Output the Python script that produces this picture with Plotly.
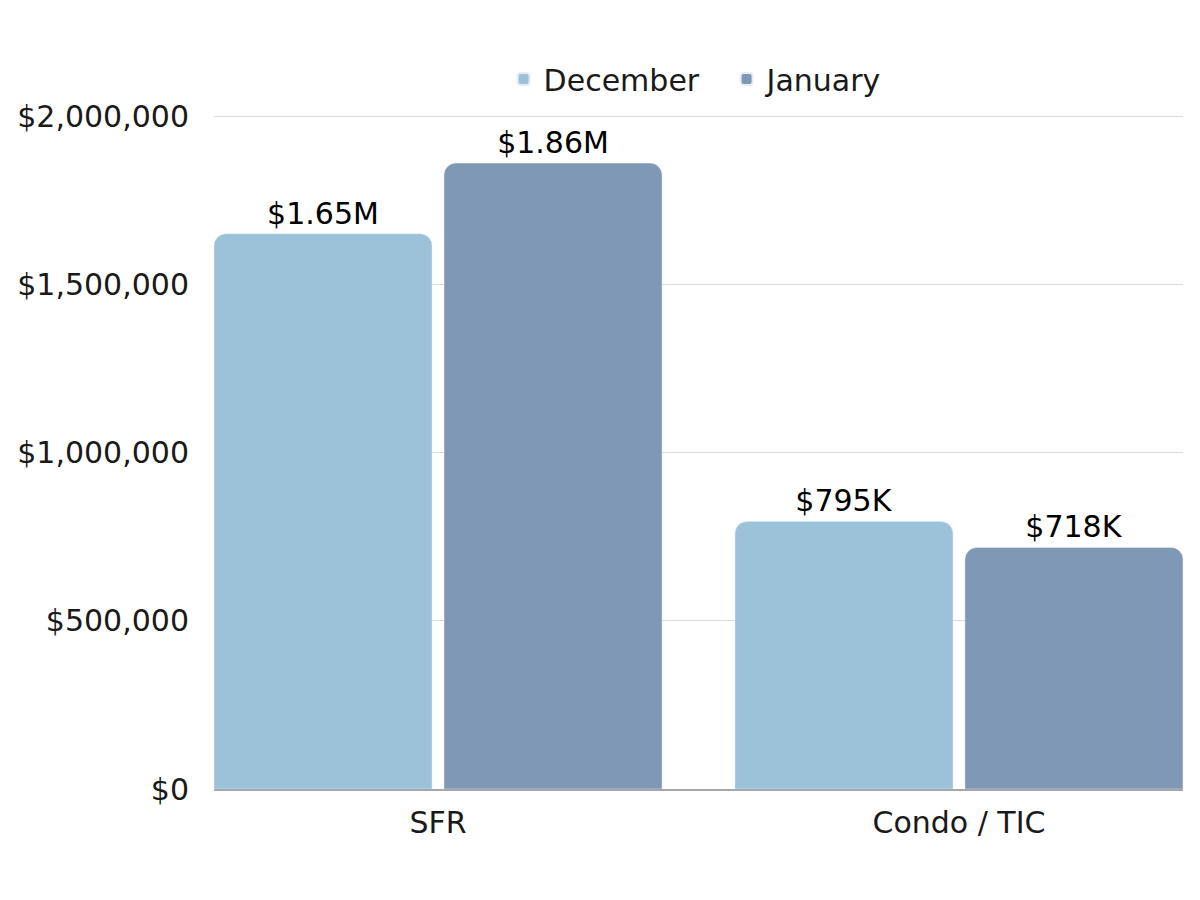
import plotly.graph_objects as go

categories = ["SFR", "Condo / TIC"]
december = [1650000, 795000]
january = [1860000, 718000]
december_labels = ["$1.65M", "$795K"]
january_labels = ["$1.86M", "$718K"]
y_tickvals = [0, 500000, 1000000, 1500000, 2000000]
y_ticktext = ["$0", "$500,000", "$1,000,000", "$1,500,000", "$2,000,000"]

FONT = "DejaVu Sans"
FS = 30
fig = go.Figure()
fig.add_trace(go.Bar(
    name="December", x=categories, y=december, text=december_labels,
    textposition="outside", marker_color="#9BC2D8", cliponaxis=False,
    textfont=dict(size=FS, color="#000000", family=FONT),
))
fig.add_trace(go.Bar(
    name="January", x=categories, y=january, text=january_labels,
    textposition="outside", marker_color="#7F98B5", cliponaxis=False,
    textfont=dict(size=FS, color="#000000", family=FONT),
))
fig.update_layout(
    width=1200, height=900,
    paper_bgcolor="white", plot_bgcolor="white",
    margin=dict(l=206, r=25, t=107, b=119, autoexpand=False),
    barmode="group", bargap=0.117, bargroupgap=0.052,
    barcornerradius=12,
    font=dict(family=FONT, size=FS, color="#1a1a1a"),
    legend=dict(orientation="h", x=0.529, xanchor="center", y=1.015, yanchor="bottom",
                font=dict(size=FS, family=FONT, color="#1a1a1a"),
                itemsizing="constant", traceorder="normal", entrywidth=178),
    showlegend=True,
)
fig.update_xaxes(range=[-0.43, 1.43], showgrid=False, showline=True,
                 linecolor="#a6a6a6", linewidth=1.5, ticks="", automargin=False,
                 tickfont=dict(size=FS, family=FONT, color="#1a1a1a"),
                 ticklabelstandoff=6)
fig.update_yaxes(range=[0, 2003000], tickvals=y_tickvals, ticktext=y_ticktext,
                 showgrid=True, gridcolor="#d9d9d9", gridwidth=1, automargin=False,
                 zeroline=False, showline=False, ticks="",
                 tickfont=dict(size=FS, family=FONT, color="#1a1a1a"),
                 ticklabelstandoff=24)
fig.write_html("out.html")
